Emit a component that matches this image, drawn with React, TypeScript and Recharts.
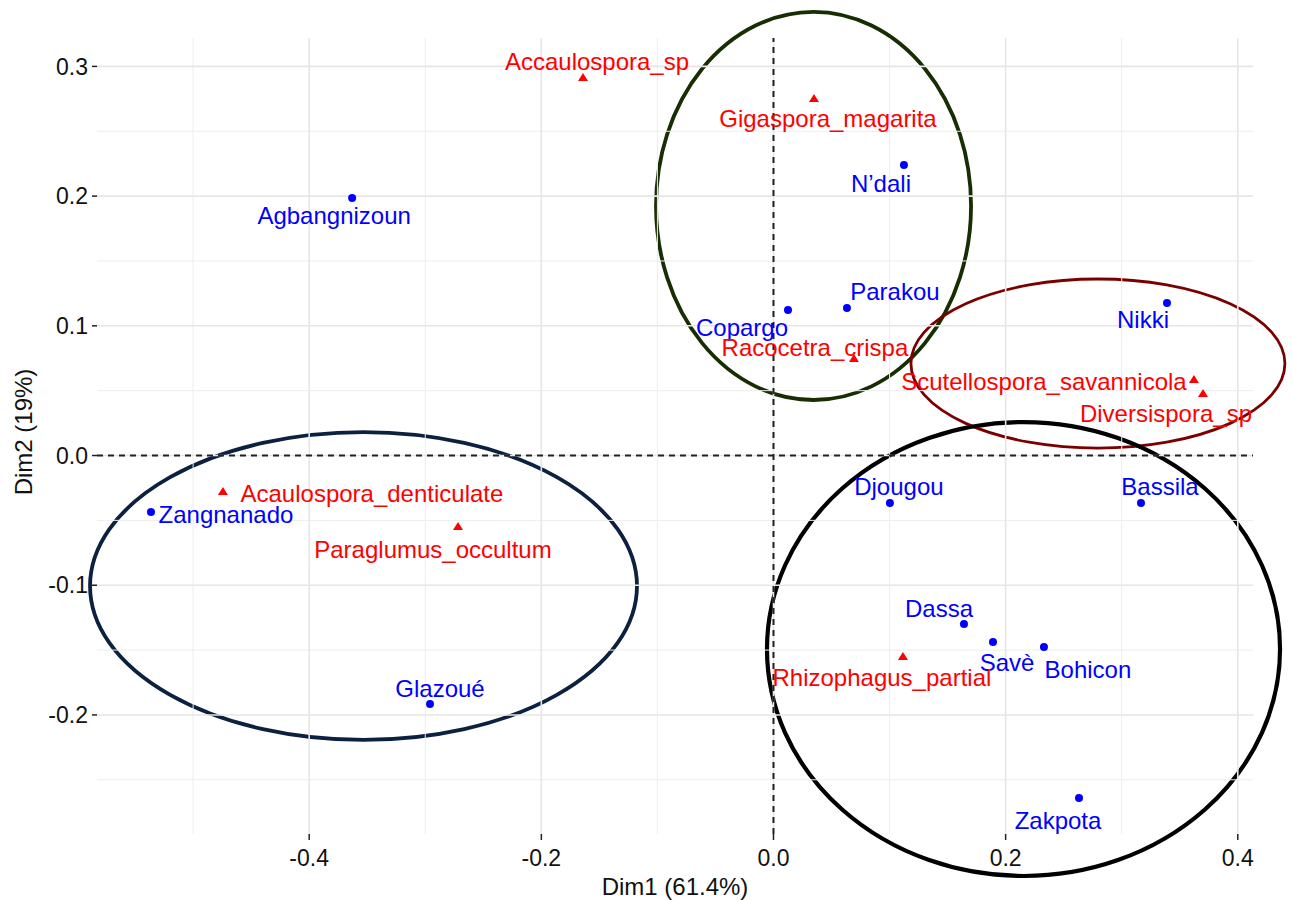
import React from 'react';
import {
  ScatterChart,
  Scatter,
  XAxis,
  YAxis,
  ReferenceLine,
  ReferenceArea,
} from 'recharts';

// ---- Data ----
const siteNames = [
  'Agbangnizoun', 'N\u2019dali', 'Parakou', 'Copargo', 'Nikki', 'Zangnanado', 'Glazou\u00e9',
  'Djougou', 'Bassila', 'Dassa', 'Sav\u00e8', 'Bohicon', 'Zakpota',
];
const siteDim1 = [-0.363, 0.1124, 0.0633, 0.0125, 0.339, -0.5363, -0.2959, 0.1003, 0.3166, 0.1641, 0.1891, 0.233, 0.2632];
const siteDim2 = [0.1985, 0.224, 0.1137, 0.1122, 0.1176, -0.0436, -0.1916, -0.0366, -0.0366, -0.1299, -0.1438, -0.1477, -0.2641];

const speciesNames = [
  'Accaulospora_sp', 'Gigaspora_magarita', 'Racocetra_crispa', 'Scutellospora_savannicola',
  'Diversispora_sp', 'Acaulospora_denticulate', 'Paraglumus_occultum', 'Rhizophagus_partial',
];
const speciesDim1 = [-0.1641, 0.0349, 0.0693, 0.3622, 0.37, -0.4743, -0.2718, 0.1115];
const speciesDim2 = [0.2911, 0.2749, 0.0744, 0.0582, 0.0474, -0.0281, -0.0551, -0.1554];

// Group ellipses: centre and semi-axes in data units
const ellipseCx = [0.0345, 0.2795, -0.3532, 0.2154];
const ellipseCy = [0.1924, 0.0709, -0.1006, -0.1492];
const ellipseRx = [0.1357, 0.1611, 0.2356, 0.221];
const ellipseRy = [0.1496, 0.0652, 0.1187, 0.175];

const xTicks = [-0.4, -0.2, 0, 0.2, 0.4];
const yTicks = [-0.2, -0.1, 0, 0.1, 0.2, 0.3];
const xMinor = [-0.5, -0.3, -0.1, 0.1, 0.3];
const yMinor = [-0.25, -0.15, -0.05, 0.05, 0.15, 0.25];

// ---- Styles / layout (not data) ----
const ellipseColors = ['#172e02', '#7a0000', '#0c2140', '#000000'];
const ellipseWidths = [3.8, 2.8, 3.8, 4.2];

// label offsets in pixels relative to each marker
const labelOffsets: Record<string, [number, number]> = {
  'Agbangnizoun': [-18, 17],
  'N\u2019dali': [-23, 19],
  'Parakou': [48, -17],
  'Copargo': [-46, 18],
  'Nikki': [-24, 17],
  'Zangnanado': [75, 2],
  'Glazou\u00e9': [10, -16],
  'Djougou': [9, -16],
  'Bassila': [19, -16],
  'Dassa': [-25, -16],
  'Sav\u00e8': [14, 20],
  'Bohicon': [44, 22],
  'Zakpota': [-21, 22],
  'Accaulospora_sp': [14, -16],
  'Gigaspora_magarita': [14, 20],
  'Racocetra_crispa': [-39, -12],
  'Scutellospora_savannicola': [-150, 1],
  'Diversispora_sp': [-37, 19],
  'Acaulospora_denticulate': [149, 2],
  'Paraglumus_occultum': [-25, 23],
  'Rhizophagus_partial': [-21, 20],
};

const FONT = '"Liberation Sans", Arial, Helvetica, sans-serif';
const LABEL_SIZE = 24;
const GRID_MAJOR = '#e6e6e6';
const GRID_MINOR = '#ededed';

const siteData = siteNames.map((name, i) => ({ name, x: siteDim1[i], y: siteDim2[i] }));
const speciesData = speciesNames.map((name, i) => ({ name, x: speciesDim1[i], y: speciesDim2[i] }));

const SiteShape = (props: any) => {
  const { cx, cy, payload } = props;
  const off = labelOffsets[payload.name] || [0, 18];
  return (
    <g>
      <circle cx={cx} cy={cy} r={4} fill="#0000ff" />
      <text
        x={cx + off[0]}
        y={cy + off[1]}
        textAnchor="middle"
        dominantBaseline="central"
        fill="#0000ff"
        fontSize={LABEL_SIZE}
        fontFamily={FONT}
      >
        {payload.name}
      </text>
    </g>
  );
};

const SpeciesShape = (props: any) => {
  const { cx, cy, payload } = props;
  const off = labelOffsets[payload.name] || [0, 18];
  const pts = `${cx},${cy - 5} ${cx + 5},${cy + 3} ${cx - 5},${cy + 3}`;
  return (
    <g>
      <polygon points={pts} fill="#ff0000" />
      <text
        x={cx + off[0]}
        y={cy + off[1]}
        textAnchor="middle"
        dominantBaseline="central"
        fill="#ff0000"
        fontSize={LABEL_SIZE}
        fontFamily={FONT}
      >
        {payload.name}
      </text>
    </g>
  );
};

const makeEllipseShape = (color: string, width: number) => (p: any) => (
  <ellipse
    cx={p.x + p.width / 2}
    cy={p.y + p.height / 2}
    rx={Math.abs(p.width) / 2}
    ry={Math.abs(p.height) / 2}
    fill="none"
    stroke={color}
    strokeWidth={width}
  />
);

const XTitle = (props: any) => {
  const vb = props.viewBox || { x: 97, y: 834, width: 1156, height: 66 };
  return (
    <text
      x={vb.x + vb.width / 2}
      y={vb.y + 61}
      textAnchor="middle"
      fill="#111"
      fontSize={24}
      fontFamily={FONT}
    >
      Dim1 (61.4%)
    </text>
  );
};

const YTitle = (props: any) => {
  const vb = props.viewBox || { x: 0, y: 38, width: 97, height: 796 };
  const cx = vb.x + 23;
  const cy = vb.y + vb.height / 2 - 4;
  return (
    <text
      x={cx}
      y={cy}
      transform={`rotate(-90 ${cx} ${cy})`}
      textAnchor="middle"
      dominantBaseline="central"
      fill="#111"
      fontSize={24}
      fontFamily={FONT}
    >
      Dim2 (19%)
    </text>
  );
};

export default function App() {
  return (
    <div style={{ position: 'absolute', left: 0, top: 0, width: 1293, height: 900, background: '#fff' }}>
      <ScatterChart
        width={1293}
        height={900}
        margin={{ top: 38, right: 40, bottom: 0, left: 0 }}
      >
        {xMinor.map((v) => (
          <ReferenceLine key={`xm${v}`} x={v} stroke={GRID_MINOR} strokeWidth={1} />
        ))}
        {yMinor.map((v) => (
          <ReferenceLine key={`ym${v}`} y={v} stroke={GRID_MINOR} strokeWidth={1} />
        ))}
        {xTicks.map((v) => (
          <ReferenceLine key={`xM${v}`} x={v} stroke={GRID_MAJOR} strokeWidth={1.6} />
        ))}
        {yTicks.map((v) => (
          <ReferenceLine key={`yM${v}`} y={v} stroke={GRID_MAJOR} strokeWidth={1.6} />
        ))}
        <XAxis
          type="number"
          dataKey="x"
          domain={[-0.5828, 0.4131]}
          ticks={xTicks}
          allowDataOverflow
          height={66}
          axisLine={false}
          tickLine={{ stroke: '#222', strokeWidth: 1.5 }}
          tickSize={6}
          tickMargin={10}
          tick={{ fill: '#111', fontSize: 23, fontFamily: FONT }}
          tickFormatter={(v: number) => v.toFixed(1)}
          label={{ content: XTitle }}
        />
        <YAxis
          type="number"
          dataKey="y"
          domain={[-0.2918, 0.3219]}
          ticks={yTicks}
          allowDataOverflow
          width={97}
          axisLine={false}
          tickLine={{ stroke: '#222', strokeWidth: 1.5 }}
          tickSize={5}
          tickMargin={4}
          tick={{ fill: '#111', fontSize: 23, fontFamily: FONT }}
          tickFormatter={(v: number) => v.toFixed(1)}
          label={{ content: YTitle }}
        />
        <ReferenceLine x={0} stroke="#222" strokeWidth={2} strokeDasharray="6 5" />
        <ReferenceLine y={0} stroke="#222" strokeWidth={2} strokeDasharray="6 5" />
        <Scatter data={siteData} shape={SiteShape} isAnimationActive={false} />
        <Scatter data={speciesData} shape={SpeciesShape} isAnimationActive={false} />
        {ellipseCx.map((cx, i) => (
          <ReferenceArea
            key={`el${i}`}
            x1={cx - ellipseRx[i]}
            x2={cx + ellipseRx[i]}
            y1={ellipseCy[i] - ellipseRy[i]}
            y2={ellipseCy[i] + ellipseRy[i]}
            ifOverflow="visible"
            shape={makeEllipseShape(ellipseColors[i], ellipseWidths[i])}
          />
        ))}
      </ScatterChart>
    </div>
  );
}
